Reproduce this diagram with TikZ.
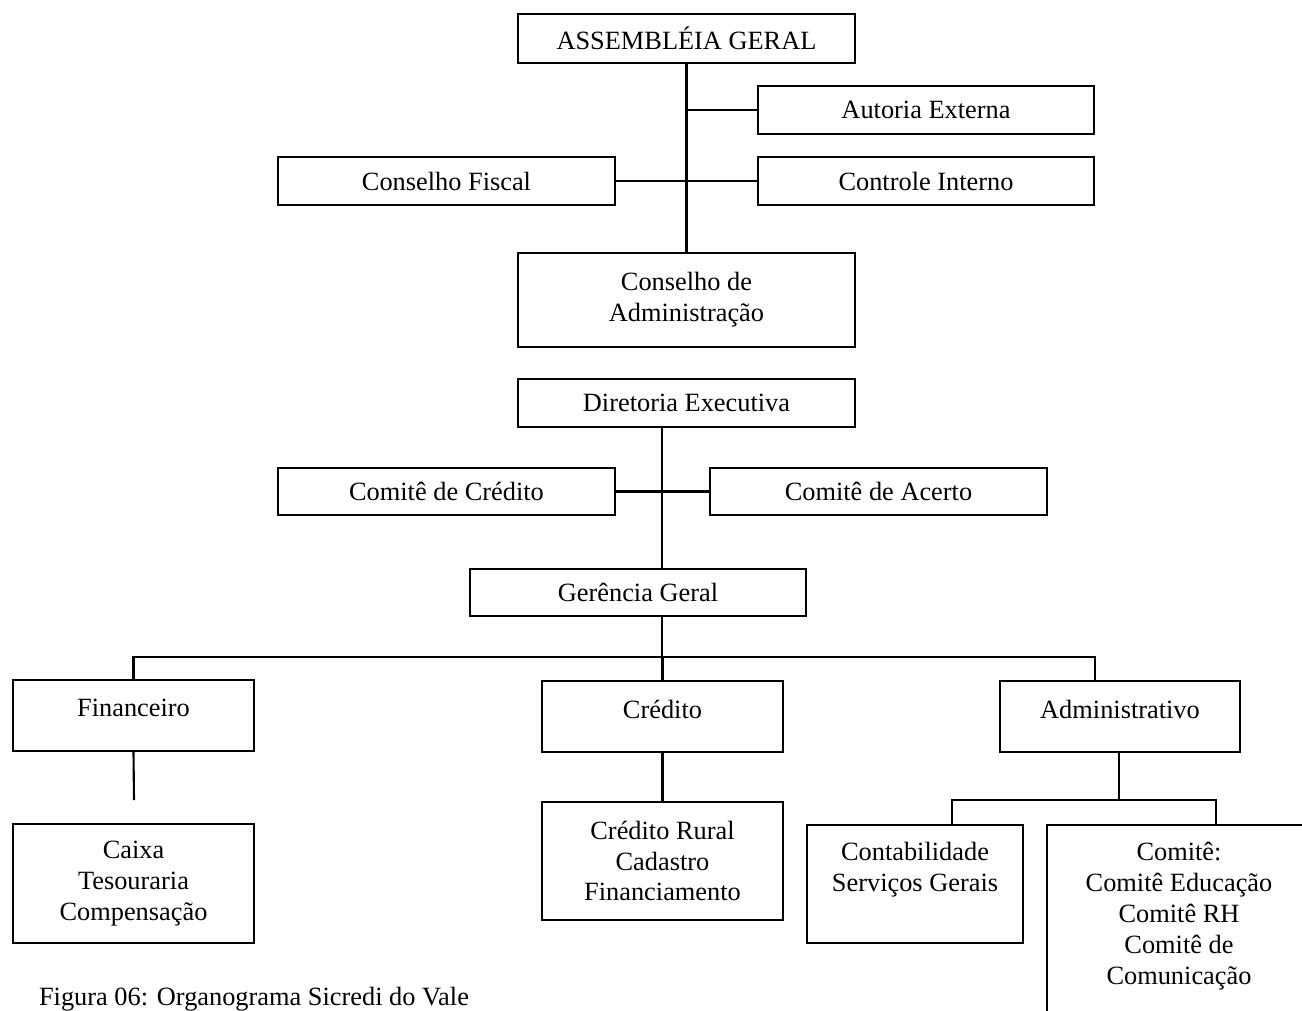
\documentclass[tikz,border=0pt]{standalone}
\usepackage{fontspec}
\setmainfont{Liberation Serif}
\begin{document}
\begin{tikzpicture}[x=0.02cm,y=-0.02cm,
  line width=1.2pt,
  box/.style={draw, rectangle, align=center, inner sep=0pt, font=\fontsize{15pt}{17.6pt}\selectfont},
  lbl/.style={align=center, inner sep=0pt, font=\fontsize{15pt}{17.6pt}\selectfont, anchor=north}]
\useasboundingbox (0,0) rectangle (1302,1011);
% top part
\node[box, minimum width=6.74cm, minimum height=0.98cm] (ag) at (686.5,38.5) {ASSEMBLÉIA GERAL};
\node[box, minimum width=6.72cm, minimum height=0.96cm] (ae) at (926,110) {Autoria Externa};
\node[box, minimum width=6.74cm, minimum height=0.96cm] (cf) at (446.5,181) {Conselho Fiscal};
\node[box, minimum width=6.72cm, minimum height=0.96cm] (ci) at (926,181) {Controle Interno};
\node[box, minimum width=6.74cm, minimum height=1.88cm] (ca) at (686.5,300) {Conselho de\\Administração};
\draw (ag) -- (ca);
\draw (ae.west) -- (ae.west -| ag.south);
\draw (cf.east) -- (ci.west);
% middle part
\node[box, minimum width=6.74cm, minimum height=0.96cm] (de) at (686.5,403) {Diretoria Executiva};
\node[box, minimum width=6.74cm, minimum height=0.94cm] (cc) at (446.5,491.5) {Comitê de Crédito};
\node[box, minimum width=6.74cm, minimum height=0.94cm] (cac) at (878.5,491.5) {Comitê de Acerto};
\node[box, minimum width=6.72cm, minimum height=0.94cm] (gg) at (638,592.5) {Gerência Geral};
\coordinate (jx) at (662,0);
\draw (de.south -| jx) -- (gg.north -| jx);
\draw (cc.east) -- (cac.west);
% departments
\node[box, minimum width=4.82cm, minimum height=1.42cm] (fin) at (133.5,715.5) {};
\node[lbl] at ([yshift=-0.38cm]fin.north) {Financeiro};
\node[box, minimum width=4.82cm, minimum height=1.42cm] (cre) at (662.5,716.5) {};
\node[lbl] at ([yshift=-0.38cm]cre.north) {Crédito};
\node[box, minimum width=4.80cm, minimum height=1.42cm] (adm) at (1120,716.5) {};
\node[lbl] at ([yshift=-0.38cm]adm.north) {Administrativo};
\coordinate (bus) at (0,657);
\coordinate (admdrop) at (1095,0);
\draw (gg.south -| jx) -- (bus -| jx);
\draw (fin.north) -- (bus -| fin.north) -- (bus -| admdrop) -- (adm.north -| admdrop);
\draw (cre.north) -- (bus -| cre.north);
% bottom boxes
\node[box, minimum width=4.82cm, minimum height=2.38cm] (caixa) at (133.5,883.5) {Caixa\\Tesouraria\\Compensação};
\node[box, minimum width=4.82cm, minimum height=2.36cm] (crr) at (662.5,861) {Crédito Rural\\Cadastro\\Financiamento};
\node[box, minimum width=4.32cm, minimum height=2.36cm] (cont) at (915,884) {};
\node[lbl] at ([yshift=-0.34cm]cont.north) {Contabilidade\\Serviços Gerais};
\node[box, minimum width=5.28cm, minimum height=4.4cm] (com) at (1179,935) {};
\node[lbl] at ([yshift=-0.34cm]com.north) {Comitê:\\Comitê Educação\\Comitê RH\\Comitê de\\Comunicação};
\coordinate (finend) at (134,800);
\draw (fin.south) -- (finend);
\draw (cre.south) -- (crr.north);
\coordinate (bus2) at (0,800);
\coordinate (admd2) at (1119,0);
\coordinate (contd) at (952,0);
\coordinate (comd) at (1216,0);
\draw (adm.south -| admd2) -- (bus2 -| admd2);
\draw (cont.north -| contd) -- (bus2 -| contd) -- (bus2 -| comd) -- (com.north -| comd);
% caption
\node[anchor=base west, inner sep=0pt, font=\fontsize{15pt}{17.6pt}\selectfont] (cap) at (38,1005) {Figura 06: Organograma Sicredi do Vale};
\end{tikzpicture}
\end{document}
